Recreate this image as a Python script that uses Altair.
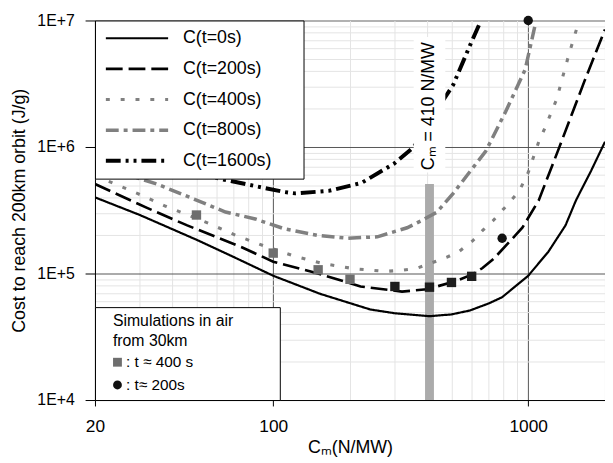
import altair as alt
import pandas as pd

# ---------------- data ----------------
series_names = ["C(t=0s)", "C(t=200s)", "C(t=400s)", "C(t=800s)", "C(t=1600s)"]

c0_cm = [20, 30, 50, 70, 100, 153, 240, 300, 410, 500, 590, 700, 790, 1000, 1200, 1400, 1540, 1765, 2000]
c0_cost = [4.0e5, 2.9e5, 1.85e5, 1.35e5, 9.6e4, 6.9e4, 5.2e4, 4.85e4, 4.6e4, 4.75e4, 5.1e4, 5.8e4, 6.5e4,
           9.6e4, 1.49e5, 2.4e5, 3.8e5, 6.5e5, 1.1e6]

c200_cm = [20, 32, 46, 76, 100, 145, 220, 320, 400, 520, 600, 660, 730, 890, 948, 1100, 1320, 1480, 1660, 2000]
c200_cost = [5.1e5, 3.3e5, 2.4e5, 1.6e5, 1.24e5, 1.02e5, 7.9e4, 7.2e4, 7.5e4, 8.7e4, 9.8e4, 1.1e5, 1.3e5,
             2.0e5, 2.3e5, 3.8e5, 9.8e5, 1.8e6, 3.3e6, 8.5e6]

c400_cm = [20, 22.4, 29.3, 37.9, 55.6, 71.5, 93, 120, 156, 208, 275, 320, 366, 478, 537, 603, 664, 726, 807,
           923, 1000, 1100, 1160, 1294, 1390, 1452, 1574]
c400_cost = [5.9e5, 5.4e5, 4.3e5, 3.4e5, 2.5e5, 2.0e5, 1.64e5, 1.38e5, 1.2e5, 1.09e5, 1.04e5, 1.06e5, 1.1e5,
             1.34e5, 1.5e5, 1.8e5, 2.2e5, 2.6e5, 3.3e5, 4.5e5, 6.3e5, 1.1e6, 1.4e6, 2.4e6, 4.1e6, 5.6e6, 9.6e6]

c800_cm = [20, 29.3, 34.9, 48.6, 65, 85, 111, 150, 196, 256, 335, 379, 438, 508, 682, 815, 973, 1064]
c800_cost = [8.0e5, 5.7e5, 5.1e5, 3.9e5, 3.06e5, 2.7e5, 2.25e5, 2.0e5, 1.9e5, 1.95e5, 2.3e5, 2.6e5, 3.05e5,
             4.3e5, 9.3e5, 1.9e6, 4.1e6, 9.2e6]

c1600_cm = [20, 40, 62, 111, 122, 165, 222, 298, 356, 426, 508, 592, 647]
c1600_cost = [1.15e6, 7.0e5, 5.6e5, 4.4e5, 4.3e5, 4.5e5, 5.2e5, 7.4e5, 1.0e6, 1.8e6, 3.1e6, 6.4e6, 9.6e6]

# simulation markers
sq_cm = [50, 100, 150, 200]
sq_cost = [2.9e5, 1.45e5, 1.07e5, 9.0e4]
dark_cm = [300, 410, 500, 600]
dark_cost = [7.9e4, 7.8e4, 8.5e4, 9.5e4]
ci_cm = [790, 1000]
ci_cost = [1.9e5, 1.0e7]

marker_kinds = ["sq", "ci"]
marker_labels = [": t \u2248 400 s", ": t\u2248 200s"]
sim_title = ["Simulations in air", "from 30km"]

# reference bar at Cm = 410 N/MW, and its label (with a white backing)
bar_cm = [410]
bar_lo = [1e4]
bar_hi = [5.1e5]
note_cm = [410]
note_cost = [2.1e6]
note_text = ["C\u2098 = 410 N/MW"]
note_lo = [6.3e5]
note_hi = [7.4e6]

x_ticks = [20, 30, 40, 50, 60, 70, 80, 90, 100, 200, 300, 400, 500, 600, 700, 800, 900, 1000, 2000]
y_ticks = [m * 10 ** e for e in (4, 5, 6) for m in range(1, 10)] + [10 ** 7]

# ---------------- tables ----------------
all_x = [c0_cm, c200_cm, c400_cm, c800_cm, c1600_cm]
all_y = [c0_cost, c200_cost, c400_cost, c800_cost, c1600_cost]
rows = []
for name, xs, ys in zip(series_names, all_x, all_y):
    for i, (xv, yv) in enumerate(zip(xs, ys)):
        rows.append({"series": name, "cm": xv, "cost": yv, "ord": i})
lines_df = pd.DataFrame(rows)

pts_df = pd.DataFrame(
    [{"cm": a, "cost": b, "kind": "sq"} for a, b in zip(sq_cm, sq_cost)]
    + [{"cm": a, "cost": b, "kind": "ci"} for a, b in zip(ci_cm, ci_cost)]
)
dark_df = pd.DataFrame({"cm": dark_cm, "cost": dark_cost})
bar_df = pd.DataFrame({"cm": bar_cm, "lo": bar_lo, "hi": bar_hi})
note_df = pd.DataFrame({"cm": note_cm, "cost": note_cost, "txt": note_text, "lo": note_lo, "hi": note_hi})

FONT = "Liberation Sans"
NB = "\u00a0"
BLANK = "\u2800"  # blank filler that is not stripped as whitespace

x_scale = alt.Scale(type="log", domain=[20, 2000], nice=False)
y_scale = alt.Scale(type="log", domain=[1e4, 1e7], nice=False)

x_axis = alt.Axis(
    values=x_ticks,
    labelExpr="indexof([20,100,1000], datum.value) >= 0 ? format(datum.value, 'd') : ''",
    gridColor={"condition": {"test": "datum.value == 100 || datum.value == 1000", "value": "#555555"},
               "value": "#e4e4e4"},
    tickOpacity={"condition": {"test": "indexof([20,100,1000], datum.value) >= 0", "value": 1}, "value": 0},
    tickSize=6, tickColor="black", labelPadding=12, labelFontSize=17.5, labelColor="black",
    labelFont=FONT, titleFont=FONT, titleFontSize=18, titleFontWeight="normal", titleColor="black",
    titlePadding=4, domainColor="black", labelFlush=False, labelOverlap=False,
)
y_axis = alt.Axis(
    values=y_ticks,
    labelExpr="indexof([10000,100000,1000000,10000000], datum.value) >= 0 ? '1E+' + round(log(datum.value)/LN10) : ''",
    gridColor={"condition": {"test": "datum.value == 100000 || datum.value == 1000000", "value": "#555555"},
               "value": "#e4e4e4"},
    tickOpacity={"condition": {"test": "indexof([10000,100000,1000000,10000000], datum.value) >= 0", "value": 1},
                 "value": 0},
    tickSize=10, tickColor="black", labelPadding=11, labelFontSize=16, labelColor="black",
    labelFont=FONT, titleFont=FONT, titleFontSize=18, titleFontWeight="normal", titleColor="black",
    titlePadding=8, domainColor="black", labelFlush=False, labelOverlap=False,
)

Y_TITLE = "Cost to reach 200km orbit (J/g)"
X = alt.X("cm:Q", scale=x_scale, axis=x_axis, title="C\u2098(N/MW)")
Y = alt.Y("cost:Q", scale=y_scale, axis=y_axis, title=Y_TITLE)

bar = alt.Chart(bar_df).mark_rule(color="#ababab", strokeWidth=9).encode(
    x=X, y=alt.Y("lo:Q", scale=y_scale, axis=y_axis, title=Y_TITLE), y2="hi:Q"
)

line_legend = alt.Legend(
    orient="top-left", offset=0, symbolType="stroke", symbolSize=3969, clipHeight=18,
    labelFont=FONT, labelFontSize=18, labelColor="black", labelOffset=13,
    labelExpr="datum.label + '" + NB * 2 + BLANK + "'",
    fillColor="white", strokeColor="black", padding=9, rowPadding=13,
)
lines = alt.Chart(lines_df).mark_line(clip=True).encode(
    x=X, y=Y,
    order="ord:Q",
    color=alt.Color("series:N", title=None, legend=line_legend,
                    scale=alt.Scale(domain=series_names,
                                    range=["black", "black", "#808080", "#808080", "black"])),
    strokeDash=alt.StrokeDash("series:N", title=None, legend=line_legend,
                              scale=alt.Scale(domain=series_names,
                                              range=[[1, 0], [17, 6], [4, 11], [13, 5, 4, 5], [15, 5, 3, 5, 3, 5]])),
    strokeWidth=alt.StrokeWidth("series:N", title=None, legend=line_legend,
                                scale=alt.Scale(domain=series_names, range=[2.2, 4, 4, 4, 4.5])),
)

legend_title = [BLANK + sim_title[0] + NB + BLANK * 3, BLANK + sim_title[1]]
pt_legend = alt.Legend(
    title=legend_title,
    orient="bottom-left", offset=0, titleFont=FONT, titleFontSize=16, titleFontWeight="normal",
    titleColor="black", titleLineHeight=20, titlePadding=6, titleLimit=400,
    labelFont=FONT, labelFontSize=15.5, labelColor="black", labelOffset=1,
    labelExpr="datum.value == 'sq' ? '" + marker_labels[0] + "' : '" + marker_labels[1] + "'",
    symbolSize=80, symbolOffset=9, fillColor="white", strokeColor="black", padding=6, rowPadding=6,
)
points = alt.Chart(pts_df).mark_point(filled=True, opacity=1, strokeWidth=0).encode(
    x=X, y=Y,
    fill=alt.Fill("kind:N", legend=pt_legend,
                  scale=alt.Scale(domain=marker_kinds, range=["#6e6e6e", "#111111"])),
    shape=alt.Shape("kind:N", legend=pt_legend,
                    scale=alt.Scale(domain=marker_kinds, range=["square", "circle"])),
    size=alt.value(90),
)
dark = alt.Chart(dark_df).mark_point(filled=True, shape="square", color="#1e1e1e", opacity=1,
                                     size=90, strokeWidth=0).encode(x=X, y=Y)

note_back = alt.Chart(note_df).mark_rule(color="white", strokeWidth=32).encode(
    x=X, y=alt.Y("lo:Q", scale=y_scale, axis=y_axis, title=Y_TITLE), y2="hi:Q"
)
note = alt.Chart(note_df).mark_text(angle=270, fontSize=18, font=FONT, color="black",
                                    align="center", baseline="middle").encode(x=X, y=Y, text="txt:N")

chart = alt.layer(bar, lines, note_back, dark, points, note).properties(
    width=516, height=384,
    autosize=alt.AutoSizeParams(type="none"),
    padding={"left": 88, "top": 10, "right": 0, "bottom": 55},
).configure_view(stroke="black", strokeWidth=1).configure_legend(zindex=1)

chart.save("out.html", embed_options={"renderer": "svg", "actions": False})
